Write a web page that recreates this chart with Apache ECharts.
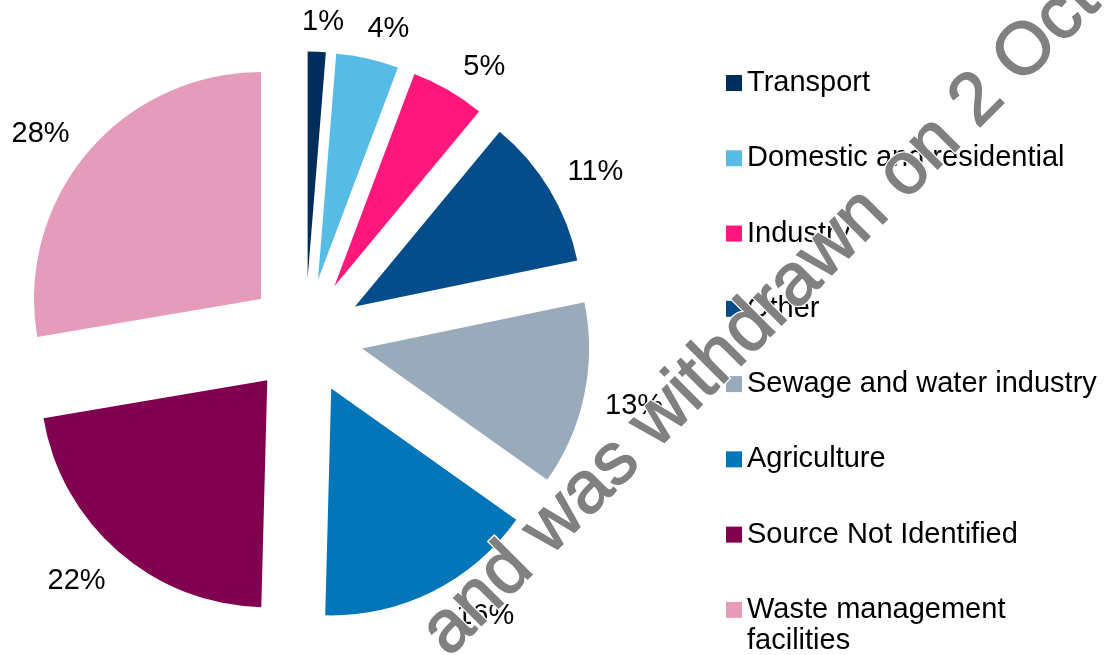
<!DOCTYPE html>
<html>
<head>
<meta charset="utf-8">
<script src="https://cdn.jsdelivr.net/npm/echarts@6/dist/echarts.min.js"></script>
<style>
  html, body { margin: 0; padding: 0; background: #ffffff; }
  #chart { width: 1106px; height: 655px; }
</style>
</head>
<body>
<div id="chart"></div>
<script>
// ---- data ----
const categories = ['Transport', 'Domestic and residential', 'Industry', 'Other',
  'Sewage and water industry', 'Agriculture', 'Source Not Identified', 'Waste management facilities'];
const shares = [1.28, 4.45, 5.27, 10.75, 13.08, 15.59, 21.91, 27.67];
const colors = ['#002e5c', '#56bce6', '#ff187c', '#054c8a', '#99aabb', '#0276b8', '#820050', '#e49cba'];
const watermarkText = 'and was withdrawn on 2 October';

// ---- layout / style constants ----
const FONT = "'Liberation Sans', Arial, sans-serif";
const PIE_RADIUS = 227;
const LABEL_GAP = 20;
const LABEL_DY = 2.5;
const TEXT_H = 22;
// small angular nudges (degrees) mimicking the spreadsheet's label placement
const LABEL_ANGLE_NUDGE = [1.1, 2.9, 3.9, 1.35, -0.35, -7.85, 2.95, -3.0];

const total = shares.reduce((a, b) => a + b, 0);

const chart = echarts.init(document.getElementById('chart'), null, { renderer: 'canvas' });

function watermark(z, stroke, lw) {
  return {
    type: 'text',
    x: 434.4,
    y: 643.6,
    rotation: Math.PI / 4,
    z: z,
    silent: true,
    style: {
      text: watermarkText,
      fontSize: 73.5,
      fontFamily: FONT,
      fill: '#808080',
      stroke: stroke,
      lineWidth: lw,
      align: 'left',
      verticalAlign: 'middle'
    }
  };
}

const option = {
  animation: false,
  backgroundColor: '#ffffff',
  legend: {
    orient: 'vertical',
    left: 721,
    top: 62,
    height: 640,
    icon: 'rect',
    itemWidth: 16,
    itemHeight: 16,
    itemGap: 43.27,
    selectedMode: false,
    textStyle: { fontSize: 29, fontFamily: FONT, color: '#000', lineHeight: 32 },
    formatter: function (name) {
      return name === 'Waste management facilities' ? 'Waste management' : name;
    },
    data: categories
  },
  series: [{
    type: 'pie',
    center: [305.3, 336.5],
    radius: PIE_RADIUS,
    startAngle: 90,
    clockwise: true,
    selectedMode: 'multiple',
    selectedOffset: 58,
    avoidLabelOverlap: false,
    emphasis: { disabled: true },
    itemStyle: { borderWidth: 0 },
    select: { itemStyle: { borderWidth: 0 }, label: { color: '#000' } },
    label: {
      show: true,
      position: 'outside',
      distanceToLabelLine: 0,
      fontSize: 29,
      fontFamily: FONT,
      color: '#000',
      formatter: function (p) { return Math.round(p.percent) + '%'; }
    },
    labelLine: { show: false, length: 0, length2: 0 },
    labelLayout: function (p) {
      let cum = 0;
      for (let i = 0; i < p.dataIndex; i++) cum += shares[i];
      const theta0 = (cum + shares[p.dataIndex] / 2) / total * 2 * Math.PI;
      const theta1 = theta0 + LABEL_ANGLE_NUDGE[p.dataIndex] * Math.PI / 180;
      const u0x = Math.sin(theta0), u0y = -Math.cos(theta0);
      const u1x = Math.sin(theta1), u1y = -Math.cos(theta1);
      const w = p.labelRect.width;
      const he = Math.abs(u1x) * w / 2 + Math.abs(u1y) * TEXT_H / 2;
      const sgn0 = u0x < 0 ? -1 : 1;
      const R = PIE_RADIUS + LABEL_GAP + he;
      return {
        dx: R * u1x - PIE_RADIUS * u0x - sgn0 * w / 2,
        dy: R * u1y - PIE_RADIUS * u0y + LABEL_DY
      };
    },
    data: categories.map(function (c, i) {
      return { name: c, value: shares[i], selected: true, itemStyle: { color: colors[i] } };
    })
  }],
  graphic: {
    elements: [
      {
        type: 'text',
        x: 747,
        y: 641,
        z: 50,
        silent: true,
        style: {
          text: 'facilities',
          fontSize: 29,
          fontFamily: FONT,
          fill: '#000',
          align: 'left',
          verticalAlign: 'middle'
        }
      },
      watermark(100, '#ffffff', 4),
      watermark(101, '#808080', 1.5)
    ]
  }
};

chart.setOption(option);
</script>
</body>
</html>
